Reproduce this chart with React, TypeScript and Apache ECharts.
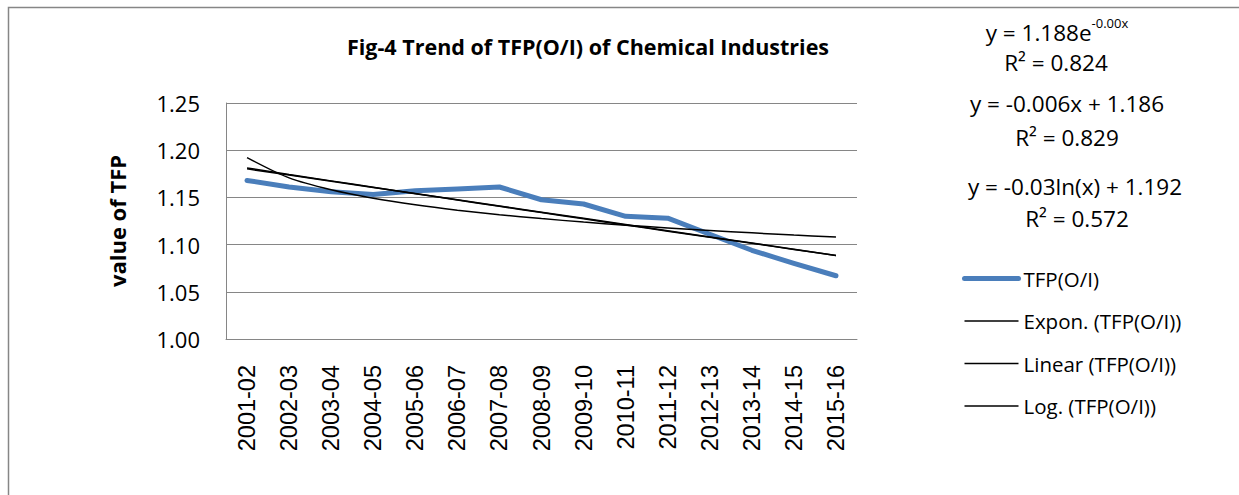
import React, { useEffect, useRef } from "react";
import * as echarts from "echarts";

const categories = [
  "2001-02", "2002-03", "2003-04", "2004-05", "2005-06", "2006-07", "2007-08", "2008-09",
  "2009-10", "2010-11", "2011-12", "2012-13", "2013-14", "2014-15", "2015-16",
];
const tfpValues = [1.168, 1.161, 1.156, 1.153, 1.157, 1.159, 1.161, 1.1475, 1.143, 1.13, 1.128, 1.111, 1.094, 1.08, 1.067];
const seriesNames = ["TFP(O/I)", "Expon. (TFP(O/I))", "Linear (TFP(O/I))", "Log. (TFP(O/I))"];
const yTicks = { min: 1.0, max: 1.25, interval: 0.05 };
const titleText = "Fig-4 Trend of TFP(O/I) of Chemical Industries";
const yAxisName = "value of TFP";
const expEq = ["y = 1.188e", "-0.00x", "R² = 0.824"];
const linEq = ["y = -0.006x + 1.186", "R² = 0.829"];
const logEq = ["y = -0.03ln(x) + 1.192", "R² = 0.572"];

function linReg(xs: number[], ys: number[]) {
  const n = xs.length;
  const mx = xs.reduce((a, b) => a + b, 0) / n;
  const my = ys.reduce((a, b) => a + b, 0) / n;
  let sxy = 0, sxx = 0;
  for (let i = 0; i < n; i++) {
    sxy += (xs[i] - mx) * (ys[i] - my);
    sxx += (xs[i] - mx) * (xs[i] - mx);
  }
  const b = sxy / sxx;
  return { a: my - b * mx, b };
}

export default function App() {
  const ref = useRef<HTMLDivElement>(null);
  useEffect(() => {
    if (!ref.current) return;
    const chart = echarts.init(ref.current, null, { renderer: "svg" });
    const xs = tfpValues.map((_, i) => i + 1);
    const lin = linReg(xs, tfpValues);
    const ex = linReg(xs, tfpValues.map((v) => Math.log(v)));
    const lg = linReg(xs.map((x) => Math.log(x)), tfpValues);
    const linData = xs.map((x) => lin.a + lin.b * x);
    const expData = xs.map((x) => Math.exp(ex.a) * Math.exp(ex.b * x));
    const logData = xs.map((x) => lg.a + lg.b * Math.log(x));

    const font = "'Open Sans', Calibri, sans-serif";
    const trendStyle = { color: "#000", width: 1.5 };
    const eqStyle = { fontFamily: font, fontSize: 22.5, fill: "#000" };

    chart.setOption({
      animation: false,
      backgroundColor: "#fff",
      grid: { left: 226, top: 103, width: 631, height: 236, containLabel: false },
      xAxis: {
        type: "category",
        data: categories,
        boundaryGap: true,
        axisLine: { lineStyle: { color: "#868686", width: 1 } },
        axisTick: { show: false },
        axisLabel: {
          rotate: 90,
          margin: 26,
          color: "#000",
          fontFamily: "'Liberation Sans', Arial, sans-serif",
          fontSize: 23.5,
        },
      },
      yAxis: {
        type: "value",
        min: yTicks.min,
        max: yTicks.max,
        interval: yTicks.interval,
        name: yAxisName,
        nameLocation: "middle",
        nameGap: 98,
        nameRotate: 90,
        nameTextStyle: { fontFamily: font, fontWeight: "bold", fontSize: 22, color: "#000" },
        axisLine: { show: true, lineStyle: { color: "#868686", width: 1 } },
        axisTick: { show: false },
        splitLine: { lineStyle: { color: "#868686", width: 1 } },
        axisLabel: {
          formatter: (v: number) => v.toFixed(2),
          color: "#000",
          fontFamily: font,
          fontSize: 22,
          margin: 26,
        },
      },
      legend: {
        orient: "vertical",
        left: 957,
        top: 263,
        itemWidth: 54,
        itemHeight: 20,
        itemGap: 21.5,
        itemStyle: { opacity: 0 },
        data: [
          { name: seriesNames[0], lineStyle: { width: 5, color: "#4a7ebb", cap: "round" } },
          { name: seriesNames[1], lineStyle: { width: 1.5, color: "#000" } },
          { name: seriesNames[2], lineStyle: { width: 1.5, color: "#000" } },
          { name: seriesNames[3], lineStyle: { width: 1.5, color: "#000" } },
        ],
        textStyle: { fontFamily: font, fontSize: 20.5, color: "#000", lineHeight: 20 },
      },
      series: [
        {
          name: seriesNames[0],
          type: "line",
          data: tfpValues,
          symbol: "none",
          lineStyle: { color: "#4a7ebb", width: 5, cap: "round", join: "round" },
          itemStyle: { color: "#4a7ebb" },
          z: 2,
        },
        {
          name: seriesNames[1],
          type: "line",
          data: expData,
          symbol: "none",
          smooth: true,
          lineStyle: trendStyle,
          itemStyle: { color: "#000" },
          z: 3,
        },
        {
          name: seriesNames[2],
          type: "line",
          data: linData,
          symbol: "none",
          lineStyle: trendStyle,
          itemStyle: { color: "#000" },
          z: 3,
        },
        {
          name: seriesNames[3],
          type: "line",
          data: logData,
          symbol: "none",
          smooth: 0.3,
          lineStyle: trendStyle,
          itemStyle: { color: "#000" },
          z: 3,
        },
      ],
      graphic: [
        {
          type: "rect",
          shape: { x: 8.5, y: 7.5, width: 1400, height: 700 },
          style: { fill: "none", stroke: "#868686", lineWidth: 1.5 },
          silent: true,
        },
        {
          type: "text",
          x: 588,
          y: 46,
          style: {
            text: titleText,
            fontFamily: font,
            fontWeight: "bold",
            fontSize: 21.5,
            fill: "#000",
            align: "center",
            verticalAlign: "middle",
          },
        },
        {
          type: "text",
          x: 1057,
          y: 30,
          style: {
            text: `{b|${expEq[0]}}{s|${expEq[1]}}`,
            rich: {
              b: { ...eqStyle, verticalAlign: "bottom", lineHeight: 24 },
              s: { fontFamily: font, fontSize: 13, fill: "#000", verticalAlign: "top", padding: [0, 0, 14, 0] },
            },
            align: "center",
            verticalAlign: "middle",
          },
        },
        { type: "text", x: 1056, y: 62, style: { ...eqStyle, text: expEq[2], align: "center", verticalAlign: "middle" } },
        { type: "text", x: 1067, y: 103, style: { ...eqStyle, text: linEq[0], align: "center", verticalAlign: "middle" } },
        { type: "text", x: 1067, y: 137, style: { ...eqStyle, text: linEq[1], align: "center", verticalAlign: "middle" } },
        { type: "text", x: 1075, y: 186, style: { ...eqStyle, text: logEq[0], align: "center", verticalAlign: "middle" } },
        { type: "text", x: 1077, y: 218, style: { ...eqStyle, text: logEq[1], align: "center", verticalAlign: "middle" } },
      ],
    });
    return () => chart.dispose();
  }, []);
  return (
    <div
      ref={ref}
      style={{ position: "fixed", left: 0, top: 0, width: 1239, height: 495, background: "#fff" }}
    />
  );
}
